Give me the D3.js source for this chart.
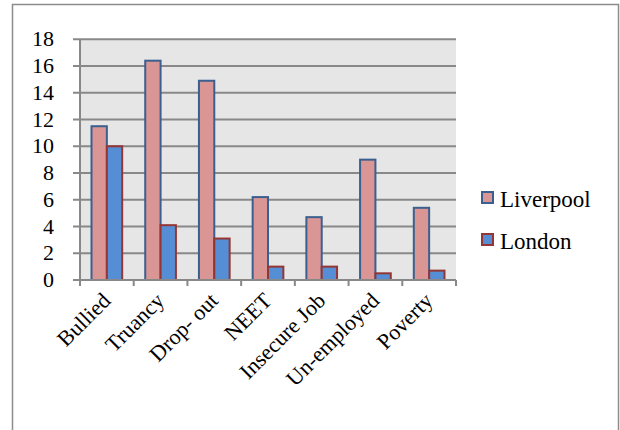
<!DOCTYPE html>
<html><head><meta charset="utf-8"><script src="https://cdn.jsdelivr.net/npm/d3@7/dist/d3.min.js"></script></head>
<body style="margin:0">
<svg id="chart" width="620" height="430"></svg>
<script>
// Categories and values per city
const categories = ["Bullied", "Truancy", "Drop- out", "NEET", "Insecure Job", "Un-employed", "Poverty"];
const series = ["Liverpool", "London"];
const liverpoolValues = [11.5, 16.4, 14.9, 6.2, 4.7, 9.0, 5.4];
const londonValues = [10.0, 4.1, 3.1, 1.0, 1.0, 0.5, 0.7];
const yTicks = [0, 2, 4, 6, 8, 10, 12, 14, 16, 18];

const valuesBySeries = { Liverpool: liverpoolValues, London: londonValues };
const fills = { Liverpool: "#d99694", London: "#558ed5" };
const strokes = { Liverpool: "#3b5f8f", London: "#943634" };
const fontFor = () => "\"Times New Roman\"";

const svg = d3.select("#chart");

// Outer chart frame
svg.append("rect")
  .attr("x", 12.5).attr("y", 4.5)
  .attr("width", 606).attr("height", 440)
  .attr("fill", "#fff").attr("stroke", "#8c8c8c").attr("stroke-width", 1.5);

const plot = { left: 80, right: 456, top: 39.3, bottom: 280 };

const x = d3.scaleBand().domain(categories).range([plot.left, plot.right]).padding(0);
const xs = d3.scaleBand().domain(series).range([0, x.bandwidth()]).paddingInner(0).paddingOuter(0.75);
const y = d3.scaleLinear().domain([0, 18]).range([plot.bottom, plot.top]);

// Plot area background
svg.append("rect")
  .attr("x", plot.left).attr("y", plot.top)
  .attr("width", plot.right - plot.left).attr("height", plot.bottom - plot.top)
  .attr("fill", "#e6e6e6");

// Horizontal gridlines with left tick stubs
svg.append("g").selectAll("line")
  .data(yTicks.filter(t => t > 0))
  .join("line")
  .attr("x1", plot.left - 7).attr("x2", plot.right)
  .attr("y1", d => y(d)).attr("y2", d => y(d))
  .attr("stroke", "#888").attr("stroke-width", 2);

// Bars
const groups = svg.append("g").selectAll("g")
  .data(categories)
  .join("g")
  .attr("transform", d => `translate(${x(d)},0)`);

groups.selectAll("rect")
  .data((c, i) => series.map(s => ({ s, v: valuesBySeries[s][i] })))
  .join("rect")
  .attr("x", d => xs(d.s))
  .attr("y", d => y(d.v))
  .attr("width", xs.bandwidth())
  .attr("height", d => y(0) - y(d.v))
  .attr("fill", d => fills[d.s])
  .attr("stroke", d => strokes[d.s])
  .attr("stroke-width", 2);

// Y axis line
svg.append("line")
  .attr("x1", plot.left).attr("x2", plot.left)
  .attr("y1", plot.top).attr("y2", plot.bottom + 5)
  .attr("stroke", "#888").attr("stroke-width", 2);

// X axis line and category ticks
svg.append("line")
  .attr("x1", plot.left - 7).attr("x2", plot.right)
  .attr("y1", plot.bottom).attr("y2", plot.bottom)
  .attr("stroke", "#888").attr("stroke-width", 2);

const boundaries = categories.map(c => x(c)).concat([plot.right]);
svg.append("g").selectAll("line")
  .data(boundaries)
  .join("line")
  .attr("x1", d => d).attr("x2", d => d)
  .attr("y1", plot.bottom).attr("y2", plot.bottom + 6)
  .attr("stroke", "#888").attr("stroke-width", 2);

// All text: y tick labels, rotated category labels, legend
const labels = []
  .concat(yTicks.map(t => ({ text: String(t), kind: "y", t })))
  .concat(categories.map(c => ({ text: c, kind: "x", c })))
  .concat(series.map((s, i) => ({ text: s, kind: "legend", i })));

svg.append("g").selectAll("text")
  .data(labels)
  .join("text")
  .attr("font-size", d => d.kind === "legend" ? 23 : 22)
  .style("font-family", fontFor)
  .attr("text-anchor", d => d.kind === "legend" ? "start" : "end")
  .attr("transform", d => {
    if (d.kind === "y") return `translate(54,${y(d.t) + 7})`;
    if (d.kind === "x") return `translate(${x(d.c) + x.bandwidth() / 2 + 5},${plot.bottom + 22}) rotate(-45)`;
    return `translate(500,${206.5 + d.i * 42})`;
  })
  .text(d => d.text);

// Legend swatches
svg.append("g").selectAll("rect")
  .data(series)
  .join("rect")
  .attr("x", 482).attr("y", (d, i) => 192 + i * 42)
  .attr("width", 11).attr("height", 11)
  .attr("fill", d => fills[d])
  .attr("stroke", d => strokes[d])
  .attr("stroke-width", 2);
</script>
</body></html>
